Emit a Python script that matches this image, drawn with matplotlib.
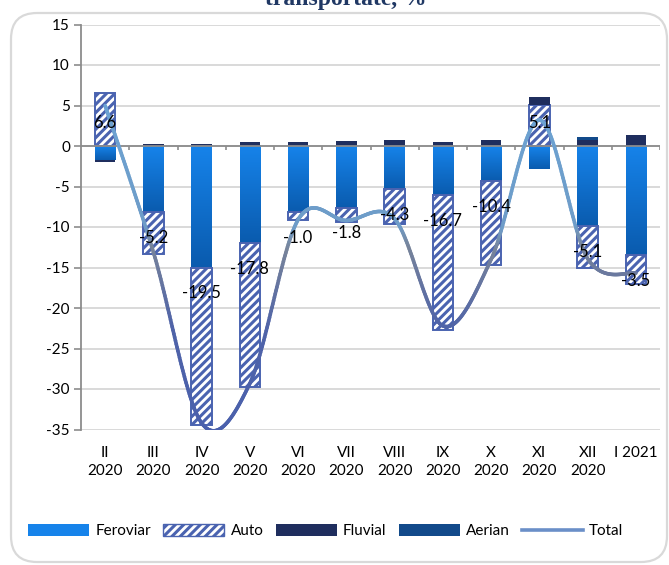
import numpy as np
import matplotlib
matplotlib.use("Agg")
import matplotlib.pyplot as plt
import matplotlib.patches as mpatches
from matplotlib.collections import LineCollection
from matplotlib.colors import LinearSegmentedColormap
from matplotlib.lines import Line2D
from matplotlib.transforms import IdentityTransform

plt.rcParams['font.family'] = ['Lato', 'DejaVu Sans']
plt.rcParams['hatch.linewidth'] = 2.2

categories = ["II\n2020", "III\n2020", "IV\n2020", "V\n2020", "VI\n2020", "VII\n2020",
              "VIII\n2020", "IX\n2020", "X\n2020", "XI\n2020", "XII\n2020", "I 2021"]
feroviar = [-1.7, -8.1, -15.0, -12.0, -8.1, -7.6, -5.3, -6.0, -4.3, -2.8, -9.9, -13.5]
auto = [6.6, -5.2, -19.5, -17.8, -1.0, -1.8, -4.3, -16.7, -10.4, 5.1, -5.1, -3.5]
fluvial = [-0.3, 0.25, 0.3, 0.5, 0.5, 0.6, 0.7, 0.5, 0.7, 0.9, 0.8, 1.3]
aerian = [0.0, 0.0, 0.0, 0.0, 0.0, 0.0, 0.0, 0.0, 0.0, 0.0, 0.3, 0.0]
total = [5.0, -13.1, -34.2, -29.3, -9.1, -9.2, -9.0, -22.2, -14.0, 3.2, -13.9, -15.7]
yticks = [15, 10, 5, 0, -5, -10, -15, -20, -25, -30, -35]

W, H = 669, 565
fig = plt.figure(figsize=(W / 100, H / 100), dpi=100)
ax = fig.add_axes([81 / W, 1 - 429.5 / H, (660 - 81) / W, (429.5 - 24.5) / H])

n = len(categories)
x = np.arange(n)
bw = 0.43

FER_TOP, FER_BOT = '#1683EA', '#0A5BAE'
AUTO_C = '#4A63B0'
FLUV_C = '#1F2E5E'
AER_C = '#124A8A'

ax.set_xlim(-0.5, n - 0.5)
ax.set_ylim(-35, 15)

# gridlines
for yv in yticks:
    ax.axhline(yv, color='#D9D9D9', lw=1.4, zorder=0)

fer_cmap = LinearSegmentedColormap.from_list('fer', [FER_TOP, FER_BOT])
grad = np.linspace(0, 1, 128).reshape(-1, 1)

pos_base = np.zeros(n)
neg_base = np.zeros(n)

def stack(vals):
    bottoms = []
    for i, v in enumerate(vals):
        if v >= 0:
            bottoms.append(pos_base[i]); pos_base[i] += v
        else:
            bottoms.append(neg_base[i]); neg_base[i] += v
    return np.array(bottoms)

# Feroviar (gradient bars)
b_fer = stack(feroviar)
for i, v in enumerate(feroviar):
    lo, hi = sorted([b_fer[i], b_fer[i] + v])
    ax.imshow(grad, cmap=fer_cmap, extent=[x[i] - bw / 2, x[i] + bw / 2, lo, hi],
              aspect='auto', origin='upper', zorder=2, interpolation='bilinear')

# Auto (hatched)
b_auto = stack(auto)
ax.bar(x, auto, bw, bottom=b_auto, facecolor='white', edgecolor=AUTO_C,
       hatch='////', linewidth=1.4, zorder=3)

# Fluvial
b_fl = stack(fluvial)
ax.bar(x, fluvial, bw, bottom=b_fl, color=FLUV_C, zorder=3, linewidth=0)

# Aerian
b_ae = stack(aerian)
ax.bar(x, aerian, bw, bottom=b_ae, color=AER_C, zorder=3, linewidth=0)

ax.set_xlim(-0.5, n - 0.5)
ax.set_ylim(-35, 15)

# zero axis line and category tick marks
ax.axhline(0, color='#8C8C8C', lw=1.3, zorder=4)
ax.vlines(np.arange(n) + 0.5, -0.55, 0, color='#8C8C8C', lw=1.2, zorder=4)

# smoothed total line (Bezier, Excel-like)
tx = np.array(x, dtype=float)
ty = np.array(total, dtype=float)
pts = []
for i in range(n - 1):
    p0 = np.array([tx[max(i - 1, 0)], ty[max(i - 1, 0)]])
    p1 = np.array([tx[i], ty[i]])
    p2 = np.array([tx[i + 1], ty[i + 1]])
    p3 = np.array([tx[min(i + 2, n - 1)], ty[min(i + 2, n - 1)]])
    c1 = p1 + (p2 - p0) / 6
    c2 = p2 - (p3 - p1) / 6
    t = np.linspace(0, 1, 60)[:, None]
    seg = (1 - t) ** 3 * p1 + 3 * (1 - t) ** 2 * t * c1 + 3 * (1 - t) * t ** 2 * c2 + t ** 3 * p2
    pts.append(seg if i == 0 else seg[1:])
pts = np.vstack(pts)
segs = np.stack([pts[:-1], pts[1:]], axis=1)
ymid = (pts[:-1, 1] + pts[1:, 1]) / 2
line_cmap = LinearSegmentedColormap.from_list(
    'tot', [(0.0, '#4A60AC'), (0.25, '#4F63A8'), (0.45, '#78849A'), (0.5, '#6E9CC8'), (1.0, '#6BA7DA')])
lc = LineCollection(segs, cmap=line_cmap, norm=plt.Normalize(-35, 15), linewidth=2.6,
                    zorder=5, capstyle='round', joinstyle='round')
lc.set_array(ymid)
ax.add_collection(lc)

# data labels (Auto values)
for i, v in enumerate(auto):
    if v >= 0:
        ly = b_auto[i] + 2.9
    else:
        ly = b_auto[i] - 3.2
    ax.text(x[i], ly, f"{v:.1f}", ha='center', va='center', fontsize=12, color='black', zorder=6)

# axes styling
for s in ['top', 'right', 'bottom']:
    ax.spines[s].set_visible(False)
ax.spines['left'].set_color('#8C8C8C')
ax.spines['left'].set_linewidth(1.3)
ax.set_yticks(yticks)
ax.set_yticklabels([str(v) for v in yticks], fontsize=11)
ax.tick_params(axis='y', length=5, color='#8C8C8C', width=1.2, pad=3)
ax.set_xticks(x)
ax.set_xticklabels(categories, fontsize=11, linespacing=1.35)
ax.tick_params(axis='x', length=0, pad=12)

# legend
handles = [
    mpatches.Patch(facecolor=FER_TOP, edgecolor='none', label='Feroviar'),
    mpatches.Patch(facecolor='white', edgecolor=AUTO_C, hatch='////', label='Auto'),
    mpatches.Patch(facecolor=FLUV_C, edgecolor='none', label='Fluvial'),
    mpatches.Patch(facecolor=AER_C, edgecolor='none', label='Aerian'),
    Line2D([0], [0], color='#6A8FC8', lw=2.6, label='Total'),
]
fig.legend(handles=handles, loc='center', bbox_to_anchor=(0.487, 1 - 531 / H), ncol=5,
           frameon=False, fontsize=11, handlelength=4.0, handleheight=0.8,
           columnspacing=0.8, handletextpad=0.4)

# rounded chart frame
frame = mpatches.FancyBboxPatch((11, 3), 656, 549,
                                boxstyle="round,pad=0,rounding_size=26",
                                transform=IdentityTransform(), facecolor='none',
                                edgecolor='#D9D9D9', linewidth=1.6, zorder=-1)
fig.add_artist(frame)

# title (partially cut off at the top, as in the reference)
fig.text(346 / W, 1 - 5 / H, "transportate, %", ha='center', va='baseline',
         fontsize=17, fontweight='bold', color='#203864', family='Liberation Serif')

fig.savefig('out.png', dpi=100)
